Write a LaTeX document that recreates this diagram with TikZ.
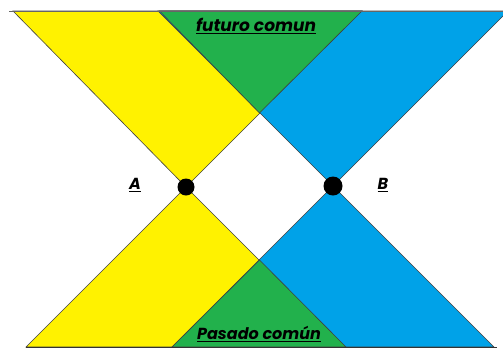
\documentclass[tikz,border=0pt]{standalone}
\usepackage{fontspec}
\setmainfont{Poppins}
\definecolor{pyellow}{RGB}{255,242,0}
\definecolor{pgreen}{RGB}{34,177,76}
\definecolor{pblue}{RGB}{0,162,232}
\tikzset{
  cone/.style={draw=black!75, line width=0.6pt, line join=miter},
  lbl/.style={font=\bfseries\itshape, inner sep=1pt},
  dot/.style={circle, fill=black, inner sep=0pt}
}
\begin{document}
\begin{tikzpicture}[x=1pt,y=-1pt]
\useasboundingbox (0,0) rectangle (503,349);
\coordinate (A) at (186,187);
\coordinate (B) at (333,186);
\begin{scope}
\clip (0,0) rectangle (503,349);
% top cones
\filldraw[cone, fill=pyellow] (13,11) -- (A) -- (362,11) -- cycle;
\filldraw[cone, fill=pblue] (158,11) -- (B) -- (508,11) -- cycle;
\filldraw[cone, fill=pgreen] (159.5,11) -- (259.5,113) -- (362,11) -- cycle;
% bottom cones
\filldraw[cone, fill=pyellow] (26,347) -- (A) -- (346,347) -- cycle;
\filldraw[cone, fill=pblue] (172,347) -- (B) -- (494,347) -- cycle;
\filldraw[cone, fill=pgreen] (172,347) -- (259.5,260) -- (346,347) -- cycle;
% base lines
\draw[black!60, line width=0.8pt] (9,11) -- (503,11);
\draw[black!80, line width=0.8pt] (26,347.5) -- (497,347.5);
\end{scope}
\node[dot, minimum size=17pt] (dA) at (A) {};
\node[dot, minimum size=19pt] (dB) at (B) {};
\node[lbl, font=\bfseries\itshape\fontsize{17}{19}\selectfont] (fut) at (256,26) {\underline{futuro comun}};
\node[lbl, font=\bfseries\itshape\fontsize{16}{18}\selectfont] (pas) at (259,334) {\underline{Pasado común}};
\node[lbl, font=\bfseries\itshape\fontsize{16}{18}\selectfont] (la) at (135,185) {\underline{A}};
\node[lbl, font=\bfseries\itshape\fontsize{16}{18}\selectfont] (lb) at (383,185) {\underline{B}};
\end{tikzpicture}
\end{document}
